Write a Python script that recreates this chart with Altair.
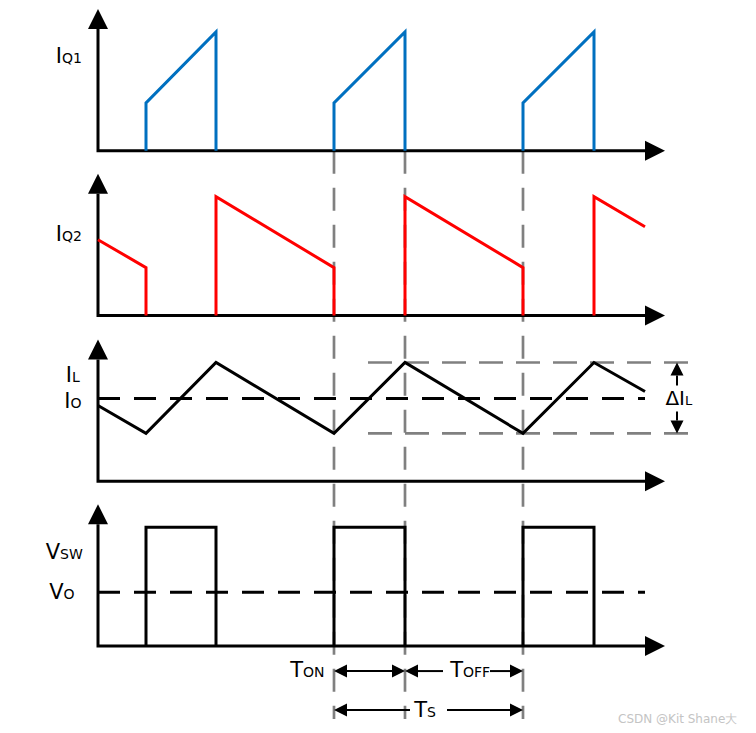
import altair as alt
import pandas as pd

# ---------------- data (time in arbitrary units, origin at the vertical axis) ----------------
IQ1_T = [48, 48, 118, 118, 236, 236, 307, 307, 425, 425, 496, 496]
IQ1_V = [0, 48, 119, 0, 0, 48, 119, 0, 0, 48, 119, 0]
IQ1_SEG = [0, 0, 0, 0, 1, 1, 1, 1, 2, 2, 2, 2]

IQ2_T = [0, 48, 48, 118, 118, 236, 236, 307, 307, 425, 425, 496, 496, 547]
IQ2_V = [76, 48, 0, 0, 119, 48, 0, 0, 119, 48, 0, 0, 119, 89]
IQ2_SEG = [0, 0, 0, 1, 1, 1, 1, 2, 2, 2, 2, 3, 3, 3]

IL_T = [0, 48, 118, 236, 307, 425, 496, 547]
IL_V = [76, 48, 119, 48, 119, 48, 119, 90]
IO_LEVEL = 83

VSW_T = [48, 48, 118, 118, 236, 236, 307, 307, 425, 425, 496, 496]
VSW_V = [0, 119, 119, 0, 0, 119, 119, 0, 0, 119, 119, 0]
VSW_SEG = [0, 0, 0, 0, 1, 1, 1, 1, 2, 2, 2, 2]
VO_LEVEL = 54

T_END = 547
GUIDE_T = [236, 307, 425]          # grey dashed markers of Ton / Toff / Ts
IL_MAX, IL_MIN = 119, 48           # ripple band (delta IL)

# panel labels: (main, sub)
PANEL_LABELS = [("I", "Q1"), ("I", "Q2"), ("I", "L"), ("I", "O"), ("V", "SW"), ("V", "O")]
TIME_LABELS = [("T", "ON"), ("T", "OFF"), ("T", "S")]

# ---------------- layout ----------------
BASE = [574, 409, 243, 78]        # baseline of each panel
AXIS_LEN = 122
X_AXIS_END = 547

def lines_df(rows):
    return pd.DataFrame(rows, columns=["x", "y", "seg", "ord"])

X = alt.Scale(domain=[-90, 650])
Y = alt.Scale(domain=[0, 717])

def line_layer(df, color, width, dash=None):
    kw = dict(color=color, strokeWidth=width, strokeCap="butt", strokeJoin="miter")
    if dash:
        kw["strokeDash"] = dash
    return alt.Chart(df).mark_line(**kw).encode(
        x=alt.X("x:Q", scale=X, axis=None),
        y=alt.Y("y:Q", scale=Y, axis=None),
        detail="seg:N",
        order="ord:Q",
    )

def head_layer(df, shape, size, color="black"):
    return alt.Chart(df).mark_point(shape=shape, size=size, filled=True, opacity=1,
                                    color=color, strokeWidth=0).encode(
        x=alt.X("x:Q", scale=X, axis=None),
        y=alt.Y("y:Q", scale=Y, axis=None),
    )

UP = "M0,-1L1,1L-1,1Z"
DOWN = "M0,1L-1,-1L1,-1Z"
RIGHT = "M1,0L-1,1L-1,-1Z"
LEFT = "M-1,0L1,-1L1,1Z"

layers = []

# grey vertical guides
rows = []
for i, t in enumerate(GUIDE_T):
    rows += [(t, BASE[0], i, 0), (t, 5, i, 1)]
layers.append(line_layer(lines_df(rows), "#808080", 2.7, [23, 14]))

# grey ripple band
rows = [(270, BASE[2] + IL_MAX, 0, 0), (595, BASE[2] + IL_MAX, 0, 1),
        (270, BASE[2] + IL_MIN, 1, 0), (595, BASE[2] + IL_MIN, 1, 1)]
layers.append(line_layer(lines_df(rows), "#808080", 2.7, [24, 13]))

# axes
rows = []
for i, b in enumerate(BASE):
    rows += [(0, b + AXIS_LEN, 2 * i, 0), (0, b, 2 * i, 1), (X_AXIS_END, b, 2 * i, 2)]
layers.append(line_layer(lines_df(rows), "black", 3))
layers.append(head_layer(pd.DataFrame({"x": [0] * 4, "y": [b + AXIS_LEN + 10 for b in BASE]}), UP, 400))
layers.append(head_layer(pd.DataFrame({"x": [X_AXIS_END + 10] * 4, "y": BASE}), RIGHT, 400))

# waveforms
layers.append(line_layer(lines_df([(t, BASE[0] + v, s, i) for i, (t, v, s) in enumerate(zip(IQ1_T, IQ1_V, IQ1_SEG))]), "#0070C0", 3))
layers.append(line_layer(lines_df([(t, BASE[1] + v, s, i) for i, (t, v, s) in enumerate(zip(IQ2_T, IQ2_V, IQ2_SEG))]), "#FF0000", 3))
layers.append(line_layer(lines_df([(t, BASE[2] + v, 0, i) for i, (t, v) in enumerate(zip(IL_T, IL_V))]), "black", 3))
layers.append(line_layer(lines_df([(t, BASE[3] + v, s, i) for i, (t, v, s) in enumerate(zip(VSW_T, VSW_V, VSW_SEG))]), "black", 3))

# dashed averages
rows = [(0, BASE[2] + IO_LEVEL, 0, 0), (T_END, BASE[2] + IO_LEVEL, 0, 1),
        (0, BASE[3] + VO_LEVEL, 1, 0), (T_END, BASE[3] + VO_LEVEL, 1, 1)]
layers.append(line_layer(lines_df(rows), "black", 3, [22, 14]))

# delta IL arrow
ax = 579
top, bot = BASE[2] + IL_MAX, BASE[2] + IL_MIN
rows = [(ax, top - 13, 0, 0), (ax, top - 23, 0, 1), (ax, bot + 13, 1, 0), (ax, bot + 22, 1, 1)]
layers.append(line_layer(lines_df(rows), "black", 2))
layers.append(head_layer(pd.DataFrame({"x": [ax], "y": [top - 6.5]}), UP, 169))
layers.append(head_layer(pd.DataFrame({"x": [ax], "y": [bot + 6.5]}), DOWN, 169))

# time arrows
y1, y2 = 53, 14
t_on, t_off, t_next = GUIDE_T
rows = [(t_on + 6, y1, 0, 0), (t_off - 6, y1, 0, 1),
        (t_off + 6, y1, 1, 0), (t_off + 38, y1, 1, 1),
        (t_off + 85, y1, 2, 0), (t_next - 6, y1, 2, 1),
        (t_on + 6, y2, 3, 0), (t_on + 76, y2, 3, 1),
        (t_on + 113, y2, 4, 0), (t_next - 6, y2, 4, 1)]
layers.append(line_layer(lines_df(rows), "black", 2))
layers.append(head_layer(pd.DataFrame({"x": [t_on + 6.5, t_off + 6.5, t_on + 6.5], "y": [y1, y1, y2]}), LEFT, 169))
layers.append(head_layer(pd.DataFrame({"x": [t_off - 6.5, t_next - 6.5, t_next - 6.5], "y": [y1, y1, y2]}), RIGHT, 169))

# labels
label_pos = [(-36, 662), (-36, 484), (-26, 342), (-27.5, 316), (-38, 165), (-34.5, 125)]
time_pos = [(205, 47), (365, 47), (329, 7)]
rows = []
for (m, s), (x, y) in zip(PANEL_LABELS + TIME_LABELS, label_pos + time_pos):
    rows.append({"x": x, "y": y, "main": m, "sub": s, "fm": 21, "fs": 14})
rows.append({"x": 587, "y": 319, "main": "ΔI", "sub": "L", "fm": 20, "fs": 13})
lab = pd.DataFrame(rows)
FONT = "DejaVu Sans"
layers.append(alt.Chart(lab).mark_text(align="right", baseline="alphabetic", font=FONT, color="black").encode(
    x=alt.X("x:Q", scale=X, axis=None), y=alt.Y("y:Q", scale=Y, axis=None),
    text="main:N", size=alt.Size("fm:Q", scale=None)))
layers.append(alt.Chart(lab).mark_text(align="left", baseline="alphabetic", font=FONT, color="black").encode(
    x=alt.X("x:Q", scale=X, axis=None), y=alt.Y("y:Q", scale=Y, axis=None),
    text="sub:N", size=alt.Size("fs:Q", scale=None)))

# watermark
layers.append(alt.Chart(pd.DataFrame({"x": [520], "y": [1], "t": ["CSDN @Kit Shane大"]})).mark_text(
    align="left", baseline="alphabetic", font=FONT, fontSize=12, color="#c4c4c4").encode(
    x=alt.X("x:Q", scale=X, axis=None), y=alt.Y("y:Q", scale=Y, axis=None), text="t:N"))

chart = alt.layer(*layers).properties(
    width=740, height=717, padding=0,
    autosize=alt.AutoSizeParams(type="fit", contains="padding"),
).configure(background="white").configure_view(stroke=None, strokeWidth=0)

chart.save("out.html", embed_options={"renderer": "svg", "actions": False})
